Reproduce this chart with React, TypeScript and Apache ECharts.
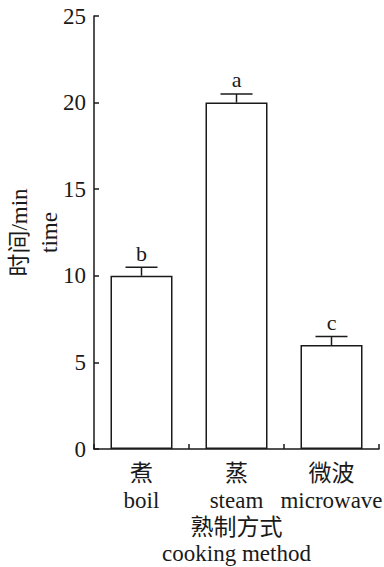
import React, { useEffect, useRef } from "react";
import * as echarts from "echarts";

const categories = ["煮\nboil", "蒸\nsteam", "微波\nmicrowave"];
const values = [10, 20, 6];
const errors = [0.5, 0.5, 0.5];
const letters = ["b", "a", "c"];
const yMin = 0;
const yMax = 25;
const yInterval = 5;

const FONT = "Liberation Serif, Times New Roman, Noto Sans CJK SC, serif";
const INK = "#1a1a1a";

export default function App() {
  const ref = useRef<HTMLDivElement>(null);
  useEffect(() => {
    if (!ref.current) return;
    const chart = echarts.init(ref.current, undefined, { renderer: "svg" });
    chart.setOption({
      animation: false,
      backgroundColor: "#ffffff",
      grid: { left: 94, right: 5, top: 16, bottom: 118, containLabel: false, outerBoundsMode: "none" },
      xAxis: {
        type: "category",
        data: categories,
        boundaryGap: true,
        name: "熟制方式\ncooking method",
        nameLocation: "middle",
        nameGap: 65,
        nameMoveOverlap: false,
        nameTextStyle: { fontFamily: FONT, fontSize: 23, color: INK, lineHeight: 26 },
        axisLine: { lineStyle: { color: INK, width: 1.5 } },
        axisTick: { show: true, inside: true, length: 5, alignWithLabel: false, lineStyle: { color: INK, width: 1.5 } },
        axisLabel: { fontFamily: FONT, fontSize: 23, color: INK, lineHeight: 27, margin: 11, interval: 0 },
        splitLine: { show: false },
      },
      yAxis: {
        type: "value",
        min: yMin,
        max: yMax,
        interval: yInterval,
        name: "时间/min\ntime",
        nameLocation: "middle",
        nameRotate: 90,
        nameGap: 30,
        nameMoveOverlap: false,
        nameTextStyle: { fontFamily: FONT, fontSize: 23, color: INK, lineHeight: 30 },
        axisLine: { show: true, lineStyle: { color: INK, width: 1.5 } },
        axisTick: { show: true, inside: true, length: 5, lineStyle: { color: INK, width: 1.5 } },
        axisLabel: { fontFamily: FONT, fontSize: 23, color: INK, margin: 8 },
        splitLine: { show: false },
      },
      series: [
        {
          type: "bar",
          data: values,
          barWidth: 62,
          itemStyle: { color: "#ffffff", borderColor: INK, borderWidth: 1.5 },
          silent: true,
        },
        {
          type: "custom",
          data: values.map((v, i) => [i, v, errors[i]]),
          renderItem: (params: any, api: any) => {
            const idx = api.value(0);
            const v = api.value(1);
            const e = api.value(2);
            const base = api.coord([idx, v]);
            const top = api.coord([idx, v + e]);
            const half = 16;
            return {
              type: "group",
              children: [
                {
                  type: "line",
                  shape: { x1: base[0], y1: base[1], x2: top[0], y2: top[1] },
                  style: { stroke: INK, lineWidth: 1.5 },
                },
                {
                  type: "line",
                  shape: { x1: top[0] - half, y1: top[1], x2: top[0] + half, y2: top[1] },
                  style: { stroke: INK, lineWidth: 1.5 },
                },
                {
                  type: "text",
                  x: top[0],
                  y: top[1] - 3,
                  style: {
                    text: letters[params.dataIndex],
                    fontFamily: FONT,
                    fontSize: 22,
                    fill: INK,
                    align: "center",
                    verticalAlign: "bottom",
                  },
                },
              ],
            };
          },
          z: 5,
          silent: true,
        },
      ],
    });
    return () => chart.dispose();
  }, []);
  return <div ref={ref} style={{ width: 384, height: 567, position: "absolute", left: 0, top: 0 }} />;
}
